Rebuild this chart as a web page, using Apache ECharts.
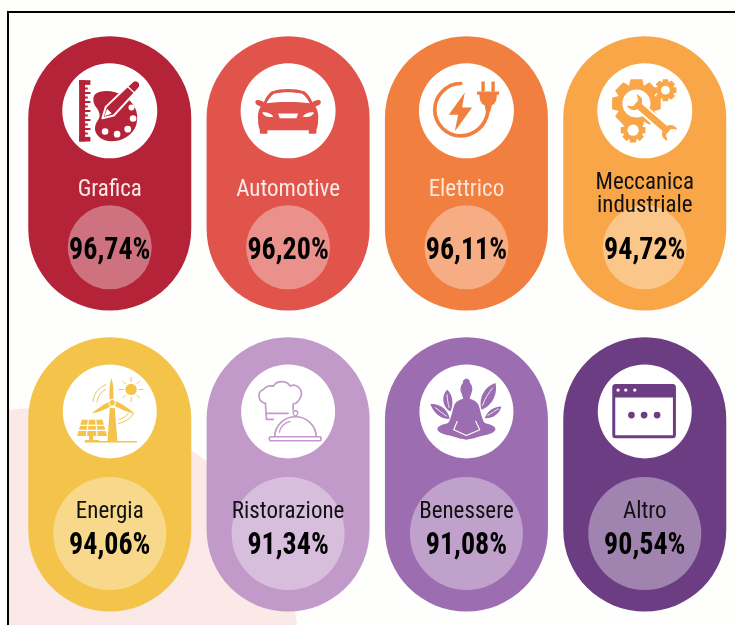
<!DOCTYPE html>
<html><head><meta charset="utf-8">
<style>html,body{margin:0;padding:0;background:#fefefd}#c{width:735px;height:625px}</style>
<script src="https://cdn.jsdelivr.net/npm/echarts@6/dist/echarts.min.js"></script>
</head><body><div id="c"></div>
<script>
const categories = ['Grafica','Automotive','Elettrico','Meccanica\nindustriale','Energia','Ristorazione','Benessere','Altro'];
const values = [96.74,96.20,96.11,94.72,94.06,91.34,91.08,90.54];
const pillColors = ['#b52338','#e0544b','#f17f3f','#f8a648','#f4c34a','#c29aca','#9c6db0','#6c3d83'];
const labelColors = ['#fbe9e6','#fbe9e6','#fde6d8','#111','#111','#111','#111','#111'];
const iconNames = ['art','car','power','gears','wind','chef','zen','window'];
const columns = ['c1','c2','c3','c4'];
const rows = ['r1','r2'];

const FONT = '"Liberation Sans Narrow","Roboto Condensed",Roboto,sans-serif';
const W = '#fff';
const fill = (d,c)=>({type:'path',shape:{pathData:d},style:{fill:c}});
const line = (d,c,w)=>({type:'path',shape:{pathData:d},style:{fill:'none',stroke:c,lineWidth:w,lineCap:'round',lineJoin:'round'}});
const dot = (x,y,r,c)=>({type:'circle',shape:{cx:x,cy:y,r:r},style:{fill:c}});
function gear(cx,cy,ro,ri,n){
  let d='';const st=Math.PI*2/n;
  for(let i=0;i<n;i++){const a=i*st;
    [[ri,-.5],[ro,-.3],[ro,.3],[ri,.5]].forEach((q,j)=>{
      const t=a+q[1]*st;
      d+=(i===0&&j===0?'M':'L')+(cx+q[0]*Math.cos(t)).toFixed(1)+' '+(cy+q[0]*Math.sin(t)).toFixed(1)+' ';
    });}
  return d+'Z';
}
const icons = {
  art(c){
    const kids=[fill('M58 58H92V72H58Z',c),fill('M58 228H92V242H58Z',c),fill('M58 58H76V242H58Z',c)];
    for(let i=0;i<11;i++){const y=80+i*13.5;kids.push(fill(`M70 ${y}H${i%2?92:84}V${y+6}H70Z`,c));}
    kids.push(fill('M106 100C125 85 165 88 190 105C222 122 240 155 230 190C220 228 170 250 135 238C108 228 98 205 112 182C126 165 118 150 108 138C100 125 98 110 106 100Z',c));
    [[215,140,9],[220,173,10],[204,205,10],[172,220,10],[136,212,10]].forEach(q=>kids.push(dot(q[0],q[1],q[2],W)));
    kids.push({type:'path',shape:{pathData:'M218 62C226 56 236 58 240 66C244 74 240 80 236 84L162 164L128 172L138 138Z'},style:{fill:c,stroke:W,lineWidth:6,lineJoin:'round'}});
    kids.push(line('M204 78L226 98',W,4));
    kids.push(fill('M134 166L142 144L156 158Z',W));
    return kids;
  },
  car(c){
    return [
      fill('M100 92C130 82 170 82 200 92C210 100 218 112 223 124C230 118 244 114 248 122C250 130 240 135 232 137C240 150 242 165 240 180C240 192 238 200 235 206V214C235 218 232 219 230 219H216C213 219 212 217 212 214V208H88V214C88 217 87 219 84 219H70C68 219 65 218 65 214V206C62 200 60 192 60 180C58 165 60 150 68 137C60 135 50 130 52 122C56 114 70 118 77 124C82 112 90 100 100 92Z',c),
      fill('M85 127C92 115 98 105 108 99C135 93 165 93 192 99C202 105 208 115 215 127C175 122 125 122 85 127Z',W),
      fill('M72 155C85 152 100 158 106 167C92 171 78 168 72 155Z',W),
      fill('M228 155C215 152 200 158 194 167C208 171 222 168 228 155Z',W),
      fill('M120 158H180L175 172H125Z',W)
    ];
  },
  power(c){
    return [
      line('M133 68C90 68 55 105 55 147C55 190 90 225 133 225C175 225 208 195 215 150',c,11),
      fill('M182 92H248V102H241C241 118 238 128 226 134L222 152H208L205 134C192 128 190 118 189 102H182Z',c),
      fill('M195 62H205V92H195Z',c),fill('M225 62H235V92H225Z',c),
      fill('M145 95L97 162H125L115 212L167 140H137Z',c)
    ];
  },
  gears(c){
    const wr='M-48 -13L48 -13C55 -28 72 -30 88 -24L68 -10L68 10L88 24C72 30 55 28 48 13L-48 13C-55 28 -72 30 -88 24L-68 10L-68 -10L-88 -24C-72 -30 -55 -28 -48 -13Z';
    return [
      fill(gear(125,128,75,58,8),c),dot(125,128,42,W),
      fill(gear(115,208,38,28,8),c),dot(115,208,17,W),
      fill(gear(212,88,34,25,8),c),dot(212,88,13,W),
      {type:'path',x:172,y:170,rotation:-41*Math.PI/180,shape:{pathData:wr},style:{fill:c,stroke:W,lineWidth:6,lineJoin:'round'}}
    ];
  },
  wind(c){
    const rays=[[238,84,250,84],[231,67,239,59],[214,60,214,48],[197,67,189,59],[190,84,178,84],[197,101,189,109],[214,108,214,120],[231,101,239,109]];
    const kids=[
      fill('M150 140H165L173 240H143Z',c),
      fill('M155 50C162 72 162 95 160 116H150C148 95 148 72 155 50Z',c),
      fill('M149 120L156 132C138 144 118 152 96 156C112 142 130 130 149 120Z',c),
      fill('M166 118L160 131C180 142 202 152 226 158C210 142 188 128 166 118Z',c),
      dot(157,124,11,W),dot(157,124,8,c),
      line('M76 241H230',c,5),
      fill('M66 175H128L142 224H52Z',c),fill('M88 224H100V236H118V241H76V236H88Z',c),
      line('M62 192H134M58 207H138M86 175L80 224M108 175L112 224',W,3.5),
      dot(214,84,17,c),
      line('M100 120C100 100 115 78 138 70',c,3),line('M112 122C112 108 122 92 138 84',c,3),
      line('M176 186C195 182 212 172 220 158',c,3),line('M178 174C190 170 200 165 206 155',c,3)
    ];
    rays.forEach(r=>kids.push(line(`M${r[0]} ${r[1]}L${r[2]} ${r[3]}`,c,3)));
    return kids;
  },
  chef(c){
    return [
      line('M82 126C60 122 55 92 76 84C84 74 96 72 106 74C116 56 146 56 156 74C176 64 198 86 187 108C183 118 174 126 165 128V146',c,5),
      line('M82 126L85 174H106M84 156H150',c,5),
      line('M110 226C110 190 140 166 172 166C204 166 234 190 234 226',c,5),
      line('M98 226H246C250 226 250 238 246 238H98C92 238 92 226 98 226Z',c,5),
      line('M172 165C162 160 164 148 172 148C180 148 182 160 172 165Z',c,4),
      line('M124 212C126 196 140 184 156 180',c,4)
    ];
  },
  zen(c){
    return [
      fill('M150 52C158 52 162 60 160 64C168 72 170 85 165 95C163 103 160 108 160 112C172 116 182 120 187 132C193 150 195 170 205 185C225 190 238 195 237 205C230 218 210 220 190 225C175 230 165 232 150 235C135 232 125 230 110 225C90 220 70 218 63 205C62 195 75 190 95 185C105 170 107 150 113 132C118 120 128 116 140 112C140 108 137 103 135 95C130 85 132 72 140 64C138 60 142 52 150 52Z',c),
      line('M122 180L112 205L150 222L190 205L178 180',W,3.5),
      fill('M102 150C80 140 72 105 92 85C110 100 112 130 102 150Z',c),
      fill('M100 172C75 175 50 155 42 128C70 125 95 145 100 172Z',c),
      fill('M195 145C185 110 205 75 237 65C245 100 225 135 195 145Z',c),
      fill('M205 170C215 145 235 135 255 135C250 155 230 172 205 170Z',c),
      line('M98 138C95 125 92 112 92 100',W,2.5),line('M90 164C78 155 66 146 56 138',W,2.5),
      line('M198 132C205 112 216 95 228 80',W,2.5),line('M214 162C226 154 236 148 246 142',W,2.5)
    ];
  },
  window(c){
    return [
      line('M62 72H234C238 72 239 74 239 78V220C239 224 238 226 234 226H62C58 226 57 224 57 220V78C57 74 58 72 62 72Z',c,9),
      fill('M57 72H239V108H57Z',c),
      dot(70,86,5,W),dot(93,86,5,W),dot(120,86,5,W),
      dot(110,161,10,c),dot(148,161,10,c),dot(187,161,10,c)
    ];
  }
};
// vertical offsets from pill centre, per row (pixels)
const rowLayout = [
  {icon:-62.5,iconR:47.5,circle:74,circleR:42,label:17,value:78},
  {icon:-63,iconR:47,circle:59,circleR:56.5,label:37.5,value:72}
];
const seriesData = values.map((v,i)=>[i%4,Math.floor(i/4),v,i]);

const chart = echarts.init(document.getElementById('c'),null,{renderer:'canvas'});
chart.setOption({
  animation:false,
  backgroundColor:'#fefefd',
  grid:{left:20.6,top:22.8,width:713.33,height:604,containLabel:false},
  xAxis:{type:'category',data:columns,show:false},
  yAxis:{type:'category',data:rows,inverse:true,show:false},
  series:[{
    type:'custom',
    coordinateSystem:'none',
    silent:true,
    z:1,
    data:[[0]],
    renderItem(){
      return {type:'group',children:[
        {type:'path',shape:{pathData:'M8 410C70 402 135 418 191 450C250 490 290 560 297 625L8 625Z'},style:{fill:'#fbe9e7'}},
        {type:'path',shape:{pathData:'M8 625L8 12L735 12'},style:{fill:'none',stroke:'#000',lineWidth:2}}
      ]};
    }
  },{
    type:'custom',
    coordinateSystem:'cartesian2d',
    clip:false,
    z:2,
    data:seriesData,
    encode:{x:0,y:1},
    renderItem(params,api){
      const col=api.value(0),row=api.value(1),val=api.value(2),idx=api.value(3);
      const pt=api.coord([col,row]);
      const band=api.size([1,1]);
      const pw=band[0]*0.914,ph=band[1]*0.911;
      const cx=pt[0],cy=pt[1],L=rowLayout[row],color=pillColors[idx];
      const txt=(s,y,size,weight,c,sy,lh)=>({type:'text',x:cx,y:cy+y,scaleY:sy,style:{text:s,x:0,y:0,align:'center',verticalAlign:'middle',fontFamily:FONT,fontSize:size,fontWeight:weight,fill:c,lineHeight:lh}});
      const isTwoLine=categories[idx].indexOf('\n')>=0;
      return {type:'group',children:[
        {type:'rect',shape:{x:cx-pw/2,y:cy-ph/2,width:pw,height:ph,r:pw/2},style:{fill:color}},
        {type:'circle',shape:{cx:cx,cy:cy+L.icon,r:L.iconR},style:{fill:'#fff'}},
        {type:'circle',shape:{cx:cx,cy:cy+L.circle,r:L.circleR},style:{fill:'rgba(255,255,255,0.36)'}},
        {type:'group',x:cx-50,y:cy+L.icon-50,scaleX:1/3,scaleY:1/3,children:icons[iconNames[idx]](color)},
        txt(categories[idx],isTwoLine?L.label+4:L.label,23,'normal',labelColors[idx],1,23),
        txt(val.toFixed(2).replace('.',',')+'%',L.value,28,'bold','#000',1.14,30)
      ]};
    }
  }]
});
</script></body></html>
